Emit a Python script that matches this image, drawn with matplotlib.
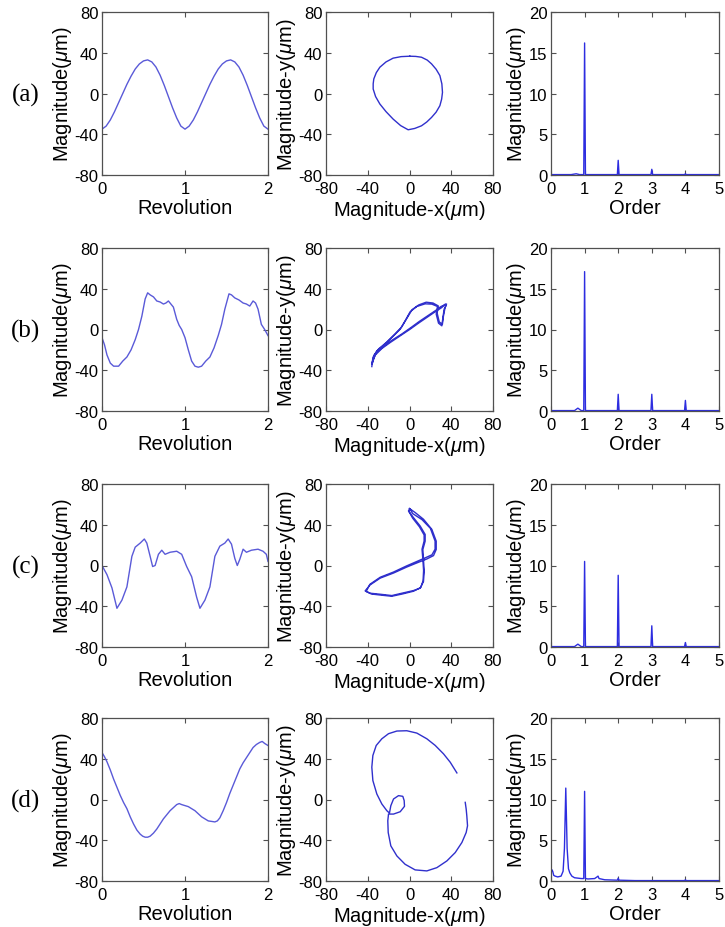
import matplotlib
matplotlib.use("Agg")
import matplotlib.pyplot as plt

plt.rcParams['font.family'] = ['Liberation Sans', 'DejaVu Sans']
plt.rcParams['mathtext.fontset'] = 'custom'
plt.rcParams['mathtext.rm'] = 'Liberation Sans'
plt.rcParams['mathtext.it'] = 'Liberation Sans:italic'
plt.rcParams['axes.unicode_minus'] = False

# ---------------- data ----------------
row_labels = ['(a)', '(b)', '(c)', '(d)']

# radial error vs revolution
rev_a = [0, 0.05, 0.1, 0.15, 0.2, 0.25, 0.3, 0.35, 0.4, 0.45, 0.5, 0.55, 0.6, 0.65, 0.7,
         0.75, 0.8, 0.85, 0.9, 0.95, 1.0, 1.05, 1.1, 1.15, 1.2, 1.25, 1.3, 1.35, 1.4, 1.45,
         1.5, 1.55, 1.6, 1.65, 1.7, 1.75, 1.8, 1.85, 1.9, 1.95, 2.0]
mag_a = [-35, -32, -26, -18, -9, 0, 9, 17, 24, 29, 32, 33, 31, 26, 18,
         8, -3, -14, -24, -32, -35, -32, -26, -18, -9, 0, 9, 17, 24, 29,
         32, 33, 31, 26, 18, 8, -3, -14, -24, -32, -35]

rev_b = [0, 0.03, 0.06, 0.1, 0.14, 0.2, 0.25, 0.3, 0.35, 0.4, 0.44, 0.48, 0.52, 0.55, 0.58,
         0.62, 0.66, 0.7, 0.74, 0.77, 0.8, 0.83, 0.86, 0.9, 0.93, 0.96, 1.0, 1.04, 1.08,
         1.12, 1.16, 1.2, 1.25, 1.3, 1.35, 1.4, 1.44, 1.48, 1.53, 1.56, 1.6, 1.65, 1.7,
         1.74, 1.78, 1.82, 1.85, 1.88, 1.92, 1.96, 2.0]
mag_b = [-8, -15, -25, -33, -36, -36, -31, -27, -20, -10, 0, 13, 30, 36, 34,
         32, 28, 27, 25, 26, 28, 25, 22, 10, 4, 0, -8, -20, -31,
         -36, -37, -36, -31, -27, -18, -6, 5, 20, 35, 34, 31, 29, 26,
         25, 23, 28, 26, 20, 5, 0, -6]

rev_c = [0, 0.06, 0.12, 0.18, 0.24, 0.3, 0.36, 0.4, 0.46, 0.51, 0.54, 0.58, 0.61, 0.64,
         0.68, 0.72, 0.76, 0.82, 0.9, 0.96, 1.02, 1.08, 1.14, 1.18, 1.24, 1.3, 1.36, 1.42,
         1.48, 1.52, 1.56, 1.6, 1.63, 1.66, 1.7, 1.74, 1.8, 1.88, 1.94, 1.98, 2.0]
mag_c = [0, -9, -22, -42, -34, -21, 9, 18, 22, 26, 22, 9, -1, 0,
         11, 15, 11, 13, 14, 11, -1, -11, -31, -42, -34, -21, 9, 19,
         22, 26, 21, 7, 0, 6, 16, 13, 15, 16, 14, 11, 4]

rev_d = [0, 0.03, 0.06, 0.1, 0.14, 0.18, 0.22, 0.26, 0.3, 0.34, 0.38, 0.42, 0.46, 0.49,
         0.52, 0.55, 0.58, 0.62, 0.66, 0.7, 0.74, 0.78, 0.82, 0.86, 0.9, 0.93, 0.96,
         1.0, 1.04, 1.08, 1.12, 1.16, 1.2, 1.24, 1.28, 1.32, 1.36, 1.39, 1.42, 1.46,
         1.5, 1.54, 1.58, 1.62, 1.66, 1.7, 1.74, 1.78, 1.82, 1.86, 1.9, 1.93, 1.96, 2.0]
mag_d = [46, 42, 37, 29, 20, 12, 4, -3, -9, -17, -24, -30, -34, -36,
         -37, -37, -36, -33, -29, -24, -19, -15, -11, -8, -5, -4, -5,
         -6, -7, -9, -11, -14, -17, -19, -21, -21.5, -22, -21, -18, -11,
         -3, 6, 14, 22, 30, 36, 41, 46, 51, 54, 56, 57, 55, 53]

# orbit plots (x, y) in micrometres
orbit_a_x = [0.3, 6, 11.5, 17, 21.1, 25.5, 29.1, 31, 31.6, 30.8, 29.1, 25.5, 21.1, 16.5,
             11.5, 5, -1.3, -8.5, -15.7, -22.5, -28.4, -32.5, -34.8, -34.8, -34.2, -31.8,
             -28.4, -22.5, -15.7, -8, 0.3]
orbit_a_y = [36.6, 36.4, 35.6, 32.8, 29.1, 23.8, 17.6, 9.5, 1.1, -5.5, -12, -18.3, -23.5, -28,
             -31.7, -34.3, -35.6, -31.5, -25.1, -17.8, -10.3, -3, 4.4, 9.5, 14.3, 20.5,
             25.8, 31, 34.7, 36.2, 36.6]

orbit_b_x = [-36.1, -35.1, -31.3, -23.3, -15.3, -8.9, -4.2, 0.6, 7, 15, 21.4, 26.8,
             25.6, 27.8, 31, 32, 33.2, 35.1, 34.2, 31,
             24.6, 16.6, 8.6, 0.6, -8.9, -18.5, -26.5, -32.9, -36.1,
             -35.5, -33.8, -29.5, -22, -14, -7.5, -2.5, 2.5, 9, 16, 22.5, 27.5,
             26.5, 28.5, 31.5, 32.5, 34, 35.5,
             30, 25.5, 17.5, 9.5, 1.5, -7.5, -17.5, -25.5, -32, -35.8]
orbit_b_y = [-36.4, -27.5, -21, -14.4, -6.2, 0.3, 8.5, 17.4, 22.6, 25.2, 24.9, 22.6,
             15.1, 6.2, 3.6, 11.8, 20, 23.9, 24.9, 21.6,
             17.4, 11.8, 6.2, 0.3, -6.2, -12.8, -18.7, -25.2, -34.1,
             -33, -25, -19, -12.5, -4.5, 2.5, 11, 19.5, 24.2, 26.8, 26, 23.2,
             16, 7.5, 5, 13, 21, 25,
             22.5, 19, 13.5, 8, 2, -4.5, -11, -17, -23, -32]

orbit_c_x = [0, 5.4, 13.4, 21.4, 25.6, 25.6, 23, 16.6, 7, -2.6, -15.3, -28.1, -37.7, -42.5,
             -37.7, -28.1, -16.9, -7.3, 3.8, 10.2, 13.4, 14.1, 13.4, 12.8, 15, 15, 10.2, 3.8,
             -1, 0.6,
             3, 12, 20, 24.5, 24.5, 21.5, 15, 6, -3, -15.5, -28, -38, -41.5,
             -36.5, -28, -17, -7, 4, 10.8, 13, 13.5, 12.8, 12, 14, 14, 9.5, 3, -0.5, 0]
orbit_c_y = [55.9, 52, 45.4, 35.5, 23.9, 15.7, 9.7, 6.4, 2.5, -1.5, -7.4, -12.4, -19, -24.9,
             -27.2, -28.2, -29.5, -27.2, -24.6, -22.3, -15.7, -5.8, 5.8, 15.7, 23.9, 30.5, 38.8, 47,
             53.6, 55.3,
             51, 45, 36.5, 24, 16, 10.5, 7.5, 3.5, -0.5, -6.5, -11.5, -18.5, -25.5,
             -28, -29, -30.2, -28, -25.2, -21.5, -15, -5, 6, 16, 24, 30, 38, 46.5, 53, 55.9]

orbit_d_x = [45.4, 39, 32.6, 24.6, 16.6, 7, -2.6, -12.1, -20.1, -26.5, -31.9, -35.1, -36.1,
             -35.1, -31.3, -26.5, -21.7, -19.2,
             -17.9, -15.3, -10.5, -6.4, -5.1, -4.8, -8.9, -15.3, -20.1,
             -20.8, -20.4, -17.9, -12.1, -4.2, 5.4, 16.6, 26.2, 35.8, 43.8, 50.2, 54.3, 55.6,
             54.9, 54.3, 53.4]
orbit_d_y = [26.1, 36.6, 44.8, 53.1, 59.6, 65.2, 67.5, 67.2, 64.6, 59.6, 53, 43.2, 31.7,
             18.6, 5.4, -4.4, -11, -13.3,
             -6.1, 0.5, 3.8, 3.1, -1.1, -6.7, -12, -14.3, -14.3,
             -20.9, -32.4, -45.5, -55.4, -63.6, -69.1, -70.1, -66.9, -60.3, -52.1, -42.2, -32.4, -25.8,
             -15.9, -9.4, -2.8]

# harmonic spectra (order, magnitude)
order_a = [0, 0.6, 0.75, 0.85, 0.975, 1.0, 1.025, 1.975, 2.0, 2.025, 2.975, 3.0, 3.025,
           3.975, 4.0, 4.025, 5.0]
spec_a = [0.05, 0.05, 0.15, 0.05, 0.05, 16.2, 0.05, 0.05, 1.8, 0.05, 0.05, 0.7, 0.05,
          0.05, 0.15, 0.05, 0.05]

order_b = [0, 0.7, 0.8, 0.9, 0.975, 1.0, 1.025, 1.975, 2.0, 2.025, 2.975, 3.0, 3.025,
           3.975, 4.0, 4.025, 5.0]
spec_b = [0.05, 0.05, 0.35, 0.05, 0.05, 17.1, 0.05, 0.05, 2.05, 0.05, 0.05, 2.05, 0.05,
          0.05, 1.3, 0.05, 0.05]

order_c = [0, 0.7, 0.8, 0.9, 0.975, 1.0, 1.025, 1.975, 2.0, 2.025, 2.975, 3.0, 3.025,
           3.975, 4.0, 4.025, 5.0]
spec_c = [0.05, 0.05, 0.35, 0.05, 0.05, 10.5, 0.05, 0.05, 8.8, 0.05, 0.05, 2.6, 0.05,
          0.05, 0.55, 0.05, 0.05]

order_d = [0, 0.02, 0.05, 0.08, 0.12, 0.2, 0.3, 0.36, 0.4, 0.44, 0.48, 0.52, 0.56, 0.62,
           0.7, 0.8, 0.9, 0.975, 1.0, 1.025, 1.1, 1.3, 1.37, 1.4, 1.43, 1.6, 1.975, 2.0,
           2.025, 2.5, 3.0, 3.5, 3.975, 4.0, 4.025, 5.0]
spec_d = [0.8, 1.4, 1.2, 0.7, 0.6, 0.5, 0.6, 1.2, 4.0, 11.4, 4.0, 1.5, 1.0, 0.6,
          0.4, 0.35, 0.3, 0.3, 11.0, 0.3, 0.25, 0.3, 0.5, 0.6, 0.3, 0.15, 0.1, 0.35,
          0.1, 0.05, 0.05, 0.05, 0.05, 0.15, 0.05, 0.05]

rev_ticks = [0, 1, 2]
mag_ticks = [-80, -40, 0, 40, 80]
order_ticks = [0, 1, 2, 3, 4, 5]
spec_ticks = [0, 5, 10, 15, 20]

traces = [(rev_a, mag_a), (rev_b, mag_b), (rev_c, mag_c), (rev_d, mag_d)]
orbits = [(orbit_a_x, orbit_a_y), (orbit_b_x, orbit_b_y),
          (orbit_c_x, orbit_c_y), (orbit_d_x, orbit_d_y)]
spectra = [(order_a, spec_a), (order_b, spec_b), (order_c, spec_c), (order_d, spec_d)]

# ---------------- layout ----------------
W, H = 725, 928
fig = plt.figure(figsize=(W / 100, H / 100), dpi=100)

col_left = [102, 326, 551]
col_width = [166, 167, 168]
row_top = [13, 249, 485, 719]
ax_h = 163

frame_col = '#505050'
trace_col = '#5a5ad8'
orbit_col = '#3030cc'
spec_col = '#2d2de0'


def make_axes(col, row):
    l = col_left[col] / W
    b = 1 - (row_top[row] + ax_h) / H
    ax = fig.add_axes([l, b, col_width[col] / W, ax_h / H])
    for s in ax.spines.values():
        s.set_color(frame_col)
        s.set_linewidth(0.9)
    ax.tick_params(direction='in', top=True, right=True, length=3.5, width=0.8,
                   color=frame_col, labelsize=12, labelcolor='black')
    ax.tick_params(axis='x', pad=4.5)
    ax.tick_params(axis='y', pad=2.5)
    return ax


for r in range(4):
    # time trace
    ax = make_axes(0, r)
    ax.plot(traces[r][0], traces[r][1], color=trace_col, lw=1.0)
    ax.set_xlim(0, 2)
    ax.set_ylim(-80, 80)
    ax.set_xticks(rev_ticks)
    ax.set_yticks(mag_ticks)
    ax.set_xlabel('Revolution', fontsize=14.5, labelpad=1)
    ax.set_ylabel('Magnitude($\\mu$m)', fontsize=14.5, labelpad=0.5)

    # orbit
    ax = make_axes(1, r)
    ax.plot(orbits[r][0], orbits[r][1], color=orbit_col, lw=1.0)
    ax.set_xlim(-80, 80)
    ax.set_ylim(-80, 80)
    ax.set_xticks(mag_ticks)
    ax.set_yticks(mag_ticks)
    ax.set_xlabel('Magnitude-x($\\mu$m)', fontsize=14.5, labelpad=1)
    ax.set_ylabel('Magnitude-y($\\mu$m)', fontsize=14.5, labelpad=0.5)

    # spectrum
    ax = make_axes(2, r)
    ax.plot(spectra[r][0], spectra[r][1], color=spec_col, lw=1.0)
    ax.set_xlim(0, 5)
    ax.set_ylim(0, 20)
    ax.set_xticks(order_ticks)
    ax.set_yticks(spec_ticks)
    ax.set_xlabel('Order', fontsize=14.5, labelpad=1)
    ax.set_ylabel('Magnitude($\\mu$m)', fontsize=14.5, labelpad=0.5)

    fig.text(26 / W, 1 - (row_top[r] + 82) / H, row_labels[r],
             family='Liberation Serif', fontsize=18, ha='center', va='center')

fig.savefig('out.png', dpi=100)
